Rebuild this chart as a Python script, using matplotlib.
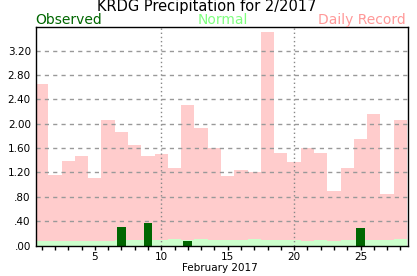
import numpy as np
import matplotlib
matplotlib.use("Agg")
import matplotlib.pyplot as plt

days = list(range(1, 29))
record = [2.65, 1.16, 1.39, 1.47, 1.11, 2.06, 1.86, 1.65, 1.47, 1.50,
          1.27, 2.30, 1.93, 1.60, 1.14, 1.24, 1.21, 3.50, 1.52, 1.37,
          1.60, 1.52, 0.90, 1.27, 1.75, 2.16, 0.85, 2.06]
normal = [0.08, 0.08, 0.08, 0.08, 0.08, 0.08, 0.09, 0.09, 0.09, 0.09,
          0.11, 0.10, 0.11, 0.09, 0.09, 0.09, 0.11, 0.09, 0.10, 0.10,
          0.08, 0.09, 0.08, 0.09, 0.09, 0.09, 0.09, 0.11]
observed_days = [7, 9, 12, 25]
observed = [0.31, 0.37, 0.08, 0.29]
ytick_vals = [0.0, 0.4, 0.8, 1.2, 1.6, 2.0, 2.4, 2.8, 3.2]
ytick_labels = [".00", ".40", ".80", "1.20", "1.60", "2.00", "2.40", "2.80", "3.20"]

fig = plt.figure(figsize=(4.17, 2.76), dpi=100)
ax = fig.add_axes([0.0856, 0.1098, 0.8921, 0.7912])

# record and normal as full-width steps
ax.bar(days, record, width=1.0, color="#ffcccc", zorder=1)
ax.bar(days, normal, width=1.0, color="#ccffcc", zorder=2)

# grid
for v in ytick_vals[1:]:
    ax.axhline(v, color="#999999", lw=1, ls=(0, (3, 3)), zorder=3)
for d in [10, 20]:
    ax.axvline(d, color="#888888", lw=1, ls=(0, (1, 2)), zorder=3)

ax.bar(observed_days, observed, width=0.66, color="#006600", zorder=4)

ax.set_xlim(0.55, 28.55)
ax.set_ylim(0, 3.58)
ax.set_xticks(days)
ax.set_xticklabels([str(d) if d % 5 == 0 else "" for d in days], fontsize=7.5)
ax.set_yticks(ytick_vals)
ax.set_yticklabels(ytick_labels, fontsize=7.5)
ax.tick_params(axis="x", length=3, width=1, pad=1.5)
ax.tick_params(axis="y", length=0, pad=3.5)
for s in ax.spines.values():
    s.set_linewidth(1)
    s.set_zorder(5)

fig.text(0.496, 0.96, "KRDG Precipitation for 2/2017", ha="center", va="baseline", fontsize=10.5)
fig.text(0.0856, 0.913, "Observed", color="#006600", ha="left", va="baseline", fontsize=10)
fig.text(0.535, 0.913, "Normal", color="#80ff80", ha="center", va="baseline", fontsize=10)
fig.text(0.972, 0.913, "Daily Record", color="#ff9999", ha="right", va="baseline", fontsize=10)
fig.text(0.527, 0.018, "February 2017", ha="center", va="baseline", fontsize=7.5)

fig.savefig("out.png", dpi=100)
